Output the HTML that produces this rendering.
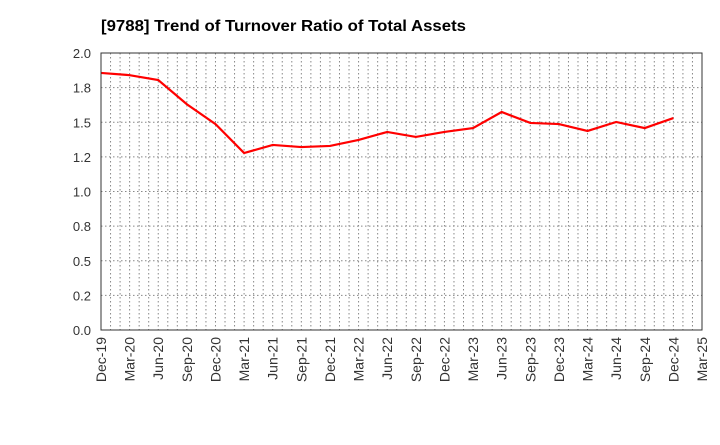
<!DOCTYPE html>
<html><head><meta charset="utf-8"><style>
body{margin:0;background:#fff;font-family:"Liberation Sans",Arial,sans-serif}
</style></head><body>
<svg width="720" height="440" xmlns="http://www.w3.org/2000/svg">
<text x="101" y="31" font-size="16" font-weight="bold" fill="#000" textLength="365" lengthAdjust="spacingAndGlyphs">[9788]  Trend of Turnover Ratio of Total Assets</text>
<g id="grid"></g>
<g id="axes"></g>
<polyline id="line" fill="none" stroke="#f00" stroke-width="2.2"/>
<rect x="101" y="53" width="601" height="277" fill="none" stroke="#333" stroke-width="1"/>
</svg>
<script>
const categories=["Dec-19","Mar-20","Jun-20","Sep-20","Dec-20","Mar-21","Jun-21","Sep-21","Dec-21","Mar-22","Jun-22","Sep-22","Dec-22","Mar-23","Jun-23","Sep-23","Dec-23","Mar-24","Jun-24","Sep-24","Dec-24","Mar-25"];
const values=[1.856,1.84,1.805,1.63,1.487,1.278,1.336,1.321,1.329,1.372,1.43,1.394,1.43,1.458,1.574,1.495,1.487,1.437,1.502,1.458,1.53];
const yTicks=[0,0.25,0.5,0.75,1.0,1.25,1.5,1.75,2.0];
const yTickLabels=["0.0","0.2","0.5","0.8","1.0","1.2","1.5","1.8","2.0"];
const NS="http://www.w3.org/2000/svg";
const L=101,R=702,T=53,B=330,yMax=2.0;
const xs=i=>L+i*(R-L)/(categories.length-1);
const ys=v=>B-v/yMax*(B-T);
const grid=document.getElementById('grid'),axes=document.getElementById('axes');
function mk(tag,attrs,parent){const e=document.createElementNS(NS,tag);for(const k in attrs)e.setAttribute(k,attrs[k]);parent.appendChild(e);return e;}
const months=(categories.length-1)*3;
for(let m=1;m<months;m++){const x=L+m*(R-L)/months;
const g=mk('line',{x1:x,x2:x,y1:T,y2:B,stroke:'#888','stroke-dasharray':'1.5,2.5','stroke-width':1},grid);

}
yTicks.forEach((v,i)=>{const y=ys(v);
if(v>0&&v<yMax){const g=mk('line',{x1:L,x2:R,y1:y,y2:y,stroke:'#888','stroke-dasharray':'1.5,2.5','stroke-width':1},grid);

}
const t=mk('text',{x:L-10,y:y+5,'text-anchor':'end','font-size':13,fill:'#333'},axes);
t.textContent=yTickLabels[i];

});
categories.forEach((c,i)=>{const x=xs(i);
const t=mk('text',{transform:`translate(${x+5},${B+7}) rotate(-90)`,'text-anchor':'end','font-size':14,fill:'#333'},axes);
t.textContent=c;

});
document.getElementById('line').setAttribute('points',values.map((v,i)=>xs(i)+','+ys(v)).join(' '));
</script>
</body></html>
